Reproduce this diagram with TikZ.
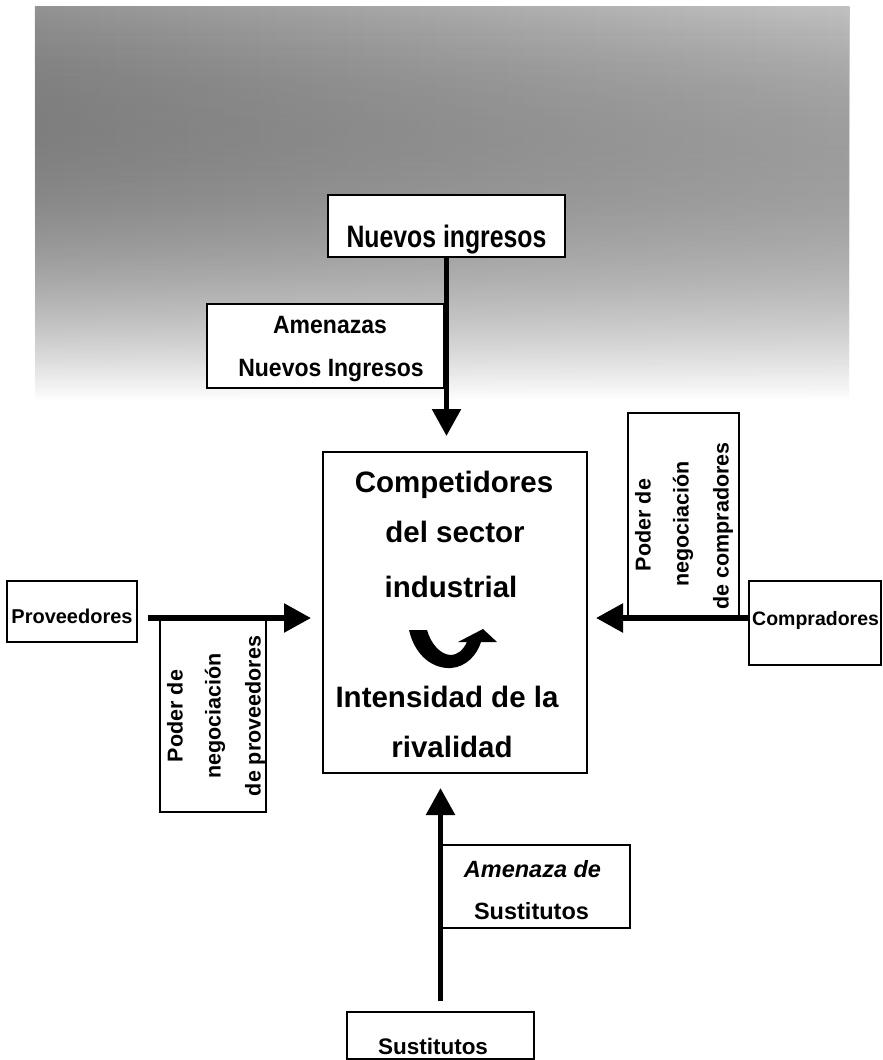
\documentclass[tikz,border=0pt]{standalone}
\usepackage{fontspec}
\setmainfont{Liberation Sans}
\usepackage{graphicx}
\usetikzlibrary{arrows.meta,fadings}
\tikzfading[name=fadedown, top color=transparent!0, middle color=transparent!45, bottom color=transparent!100]
\begin{document}
\begin{tikzpicture}[x=1pt,y=-1pt,
  box/.style={draw=black, line width=1.8pt, fill=white, inner sep=0pt},
  mainbox/.style={draw=black, line width=2pt, fill=white, inner sep=0pt},
  txt/.style={inner sep=0pt, anchor=base},
  rtxt/.style={inner sep=0pt, anchor=center, rotate=90, font=\fontsize{21.5}{21.5}\selectfont\bfseries},
  conn/.style={line width=5.5pt, -{Triangle[length=27pt,width=28pt]}}]
\useasboundingbox (0,0) rectangle (883,1060);
% scanned background noise
\fill[left color=black!42, right color=black!24, path fading=fadedown] (35,6) rectangle (850,400);

% boxes
\node[box, minimum width=237pt, minimum height=62pt] (nuevos) at (446.5,226) {};
\node[txt] (tnuevos) at (446.5,247) {\fontsize{31}{31}\selectfont\bfseries\scalebox{0.8}[1]{Nuevos ingresos}};

\node[box, minimum width=237pt, minimum height=84pt] (amen) at (325.5,346) {};
\node[txt] (tamen1) at (330,333) {\fontsize{25}{25}\selectfont\bfseries\scalebox{0.92}[1]{Amenazas}};
\node[txt] (tamen2) at (331,376) {\fontsize{25}{25}\selectfont\bfseries\scalebox{0.92}[1]{Nuevos Ingresos}};

\node[mainbox, minimum width=264pt, minimum height=321pt] (main) at (455,612.5) {};
\node[txt] (m1) at (454,492) {\fontsize{29.5}{29.5}\selectfont\bfseries Competidores};
\node[txt] (m2) at (455,542) {\fontsize{29.5}{29.5}\selectfont\bfseries del sector};
\node[txt] (m3) at (451,597) {\fontsize{29.5}{29.5}\selectfont\bfseries industrial};
\node[txt] (m4) at (447,707) {\fontsize{29.5}{29.5}\selectfont\bfseries Intensidad de la};
\node[txt] (m5) at (452,757) {\fontsize{29.5}{29.5}\selectfont\bfseries rivalidad};
% curved arrow inside
\fill (409,630) .. controls (415,656) and (433,669) .. (451,668)
  .. controls (466,667) and (477,655) .. (481,642)
  -- (497,642) -- (483,629) -- (458,642) -- (467,642)
  .. controls (463,650) and (458,655) .. (450,655)
  .. controls (440,654) and (431,644) .. (427,630) -- cycle;

\node[box, minimum width=130pt, minimum height=61pt] (prov) at (72,611.5) {};
\node[txt] (tprov) at (72,623) {\fontsize{20}{20}\selectfont\bfseries Proveedores};

\node[box, minimum width=132pt, minimum height=84pt] (comp) at (815,623) {};
\node[txt, anchor=base west] (tcomp) at (752,625) {\fontsize{19.5}{19.5}\selectfont\bfseries Compradores};

\node[box, minimum width=106pt, minimum height=192pt] (provlab) at (213,716) {};
\node[rtxt] (pl1) at (175,716) {Poder de};
\node[rtxt] (pl2) at (215,716) {negociación};
\node[rtxt] (pl3) at (255,716) {de proveedores};

\node[box, minimum width=111pt, minimum height=203pt] (complab) at (683.5,514.5) {};
\node[rtxt] (cl1) at (643,525) {Poder de};
\node[rtxt] (cl2) at (683,524) {negociación};
\node[rtxt] (cl3) at (723,526) {de compradores};

\node[box, minimum width=188pt, minimum height=83pt] (amsus) at (536,886.5) {};
\node[txt] (tas1) at (532.5,877) {\fontsize{23.5}{23.5}\selectfont\bfseries\itshape Amenaza de};
\node[txt] (tas2) at (531.5,919) {\fontsize{23.5}{23.5}\selectfont\bfseries Sustitutos};

\node[box, minimum width=187pt, minimum height=47pt] (sust) at (440.5,1035.5) {};
\node[txt] (tsust) at (433,1054) {\fontsize{22.5}{22.5}\selectfont\bfseries Sustitutos};

% connectors
\draw[conn, shorten >=15pt] (nuevos.south) -- (nuevos.south |- main.north);
\coordinate (pa) at ([yshift=-6.5pt]prov.east);
\draw[conn, shorten <=10pt, shorten >=11pt] (pa) -- (pa -| main.west);
\coordinate (ca) at ([yshift=5pt]comp.west);
\draw[conn, shorten >=8pt] (ca) -- (ca -| main.east);
\draw[conn, shorten <=10pt, shorten >=14pt] (sust.north) -- (sust.north |- main.south);
\end{tikzpicture}
\end{document}
